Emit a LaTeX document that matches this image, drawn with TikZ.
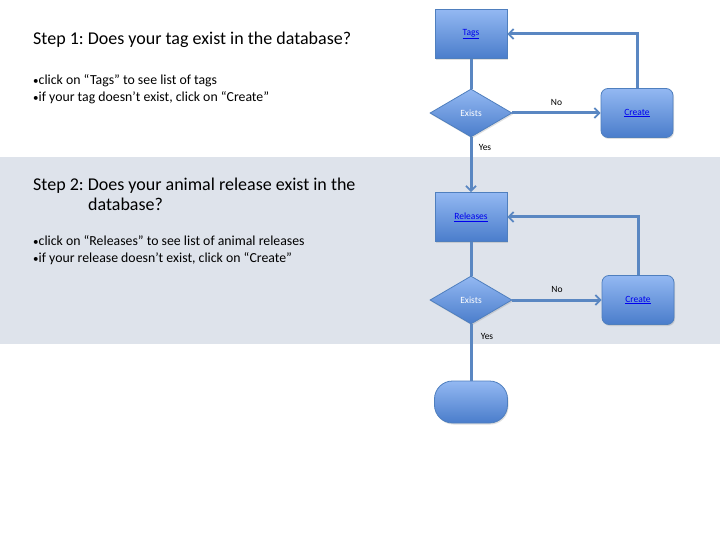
\documentclass[tikz,border=0pt]{standalone}
\usepackage{fontspec}
\setmainfont{Carlito}
\usetikzlibrary{shapes.geometric,arrows.meta,shadows}
\definecolor{boxtop}{HTML}{93B8F2}
\definecolor{boxbot}{HTML}{4A7DCB}
\definecolor{boxline}{HTML}{4F7FBE}
\definecolor{flow}{HTML}{5A87C2}
\definecolor{band}{HTML}{DEE3EB}
\definecolor{linkblue}{HTML}{0000EE}
\frenchspacing
\newcommand{\dotmark}{{\fontsize{11}{13}\selectfont\textbullet}}
\begin{document}
\begin{tikzpicture}[x=1pt,y=-1pt,
    stepbox/.style={draw=boxline, line width=0.8pt, top color=boxtop, bottom color=boxbot,
        drop shadow={shadow xshift=1pt, shadow yshift=-1.5pt, opacity=0.25},
        minimum width=72pt, minimum height=49pt, inner sep=0pt, font=\fontsize{9.5}{11}\selectfont},
    roundbox/.style={stepbox, rounded corners=7pt},
    endbox/.style={stepbox, rounded corners=18pt, minimum height=42pt, minimum width=73pt},
    decision/.style={diamond, draw=boxline, line width=0.8pt, top color=boxtop, bottom color=boxbot,
        drop shadow={shadow xshift=1pt, shadow yshift=-1.5pt, opacity=0.25},
        aspect=1.7, minimum width=82pt, minimum height=48pt, inner sep=0pt,
        text=white, font=\fontsize{9.5}{11}\selectfont},
    flowline/.style={draw=flow, line width=3pt},
    flowarrow/.style={flowline, -{Straight Barb[length=5pt,width=10pt,line width=1.8pt]}},
    lbl/.style={font=\fontsize{9.5}{11}\selectfont, inner sep=0pt},
    heading/.style={anchor=base west, inner sep=0pt, font=\fontsize{18}{21}\selectfont},
    bullet/.style={anchor=base west, inner sep=0pt, font=\fontsize{13.8}{16}\selectfont}]
\useasboundingbox (0,0) rectangle (720,540);
\fill[white] (0,0) rectangle (720,540);
\fill[band] (0,157) rectangle (720,344);

% step 1
\node[heading] (head1) at (33,45) {Step 1: Does your tag exist in the database?};
\node[bullet] (b11) at (33,85) {\dotmark click on “Tags” to see list of tags};
\node[bullet] (b12) at (33,102) {\dotmark if your tag doesn’t exist, click on “Create”};

\node[stepbox] (tags) at (471,34) {\textcolor{linkblue}{\underline{Tags}}};
\node[decision] (exists1) at (471,113) {Exists};
\node[roundbox] (create1) at (637,113) {\textcolor{linkblue}{\underline{Create}}};
\coordinate (c1) at (637,34);

% step 2
\node[heading] (head2) at (33,191) {Step 2: Does your animal release exist in the};
\node[heading] (head2b) at (88,211) {database?};
\node[bullet] (b21) at (33,245) {\dotmark click on “Releases” to see list of animal releases};
\node[bullet] (b22) at (33,262) {\dotmark if your release doesn’t exist, click on “Create”};

\node[stepbox] (releases) at (471,217) {\textcolor{linkblue}{\underline{Releases}}};
\node[decision] (exists2) at (471,300) {Exists};
\node[roundbox] (create2) at (638,300) {\textcolor{linkblue}{\underline{Create}}};
\coordinate (c2) at (638,217);
\node[endbox] (done) at (471,402) {};

% connectors
\draw[flowline] (tags) -- (exists1);
\draw[flowarrow] (exists1) -- node[lbl, above=6pt] (no1) {No} (create1);
\draw[flowarrow] (create1.north) -- (c1) -- (tags.east);
\draw[flowarrow] (exists1.south) -- (releases.north);
\node[lbl] (yes1) at (485,147) {Yes};

\draw[flowline] (releases) -- (exists2);
\draw[flowarrow] (exists2) -- node[lbl, above=6pt] (no2) {No} (create2);
\draw[flowarrow] (create2.north) -- (c2) -- (releases.east);
\draw[flowline] (exists2.south) -- (done.north);
\node[lbl] (yes2) at (487,336) {Yes};
\end{tikzpicture}
\end{document}
